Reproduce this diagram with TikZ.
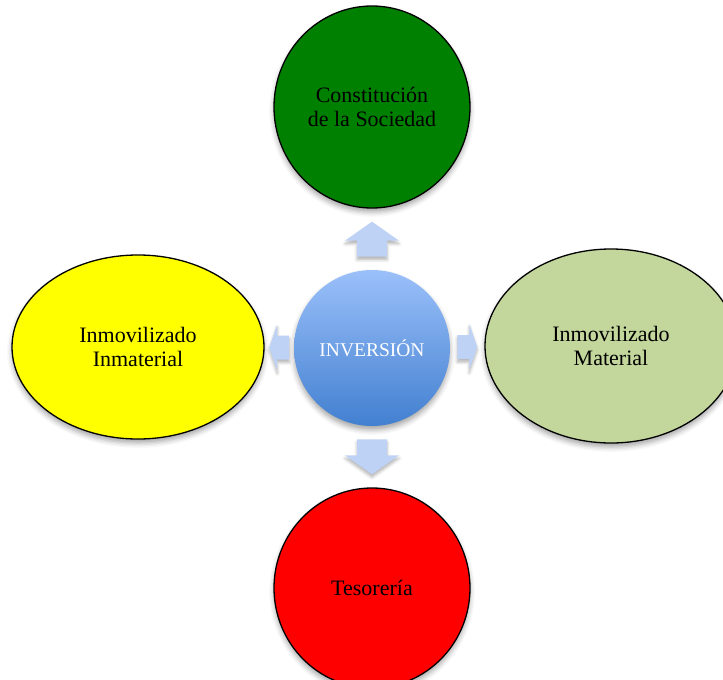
\documentclass[tikz,border=0pt]{standalone}
\usepackage{fontspec}
\setmainfont{Liberation Serif}
\usetikzlibrary{shapes.geometric, calc, shadows.blur}

\definecolor{socgreen}{RGB}{0,128,0}
\definecolor{inmyellow}{RGB}{255,255,0}
\definecolor{matgreen}{RGB}{195,214,155}
\definecolor{arrowblue}{RGB}{190,210,245}
\definecolor{topblue}{RGB}{155,192,250}
\definecolor{bottomblue}{RGB}{66,128,208}

\begin{document}
\begin{tikzpicture}[x=1pt, y=-1pt,
      bubble/.style={ellipse, draw, line width=1.3pt, align=center, inner sep=0pt,
        font=\fontsize{22}{23.5}\selectfont,
        blur shadow={shadow xshift=0pt, shadow yshift=-4pt, shadow opacity=35, shadow blur radius=5pt}},
      hub/.style={circle, minimum size=156pt, inner sep=0pt, top color=topblue, bottom color=bottomblue,
        text=white, font=\fontsize{19.5}{22}\selectfont,
        blur shadow={shadow xshift=0pt, shadow yshift=-4pt, shadow opacity=35, shadow blur radius=5pt}},
      pointer/.style={fill=arrowblue,
        blur shadow={shadow xshift=0pt, shadow yshift=-3pt, shadow opacity=30, shadow blur radius=3pt}},
      longarrow/.pic={\fill[pointer] (-17.5,-15) -- (-1.5,-15) -- (-1.5,-27) -- (17.5,0)
        -- (-1.5,27) -- (-1.5,15) -- (-17.5,15) -- cycle;},
      shortarrow/.pic={\fill[pointer] (-10,-12) -- (2,-12) -- (2,-23) -- (10,0)
        -- (2,23) -- (2,12) -- (-10,12) -- cycle;}]

      \useasboundingbox (0,0) rectangle (723,680);
      \clip (0,0) rectangle (723,680);

      % Centre
      \node[hub] (inv) at (372,348) {INVERSIÓN};

      % Bubbles
      \node[bubble, fill=socgreen, minimum width=196pt, minimum height=202pt] (soc) at (372,107) {Constitución\\de la Sociedad};
      \node[bubble, fill=inmyellow, minimum width=252pt, minimum height=184pt] (inm) at (138,347) {Inmovilizado\\Inmaterial};
      \node[bubble, fill=matgreen, minimum width=252pt, minimum height=194pt] (mat) at (611,346) {Inmovilizado\\Material};
      \node[bubble, fill=red, minimum width=196pt, minimum height=200pt] (tes) at (372,588) {Tesorería};

      % Arrows between centre and bubbles
      \pic[rotate=90] at ($(inv.north)!0.5!(soc.south)$) {longarrow};
      \pic[rotate=-90] at ($(inv.south)!0.5!(tes.north)$) {longarrow};
      \pic[rotate=180] at ($(inv.west)!0.5!(inm.east)$) {shortarrow};
      \pic at ($(inv.east)!0.5!(mat.west)$) {shortarrow};
    \end{tikzpicture}
\end{document}
